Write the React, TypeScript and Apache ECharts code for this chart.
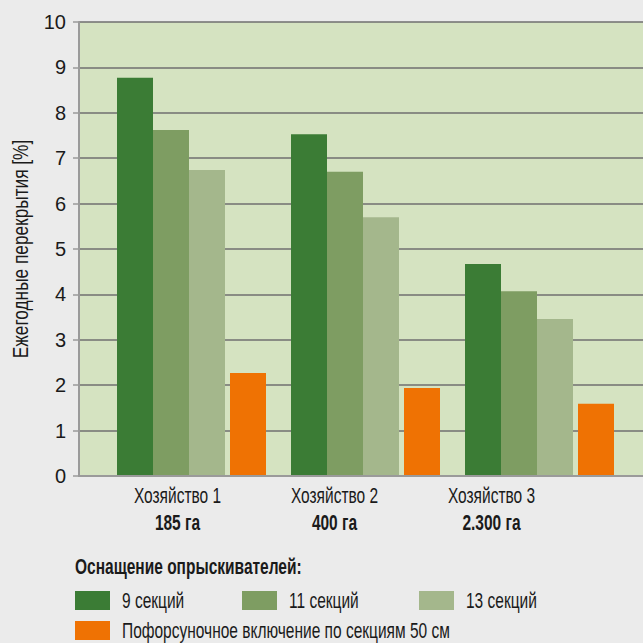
import React, { useEffect, useRef } from "react";
import * as echarts from "echarts";

const categories = ["Хозяйство 1", "Хозяйство 2", "Хозяйство 3"];
const areas = ["185 га", "400 га", "2.300 га"];
const sec9 = [8.77, 7.53, 4.67];
const sec11 = [7.62, 6.7, 4.07];
const sec13 = [6.74, 5.7, 3.46];
const nozzle = [2.27, 1.94, 1.59];
const seriesNames = [
  "9 секций",
  "11 секций",
  "13 секций",
  "Пофорсуночное включение по секциям 50 см",
];
const colors = ["#3b7c35", "#7e9d62", "#a4b78c", "#ef7203"];
const legendTitle = "Оснащение опрыскивателей:";
const yName = "Ежегодные перекрытия [%]";
const yTicks = [0, 10, 1];

const FONT = "'Liberation Sans', Arial, sans-serif";
const FS = 22;
const NARROW = 0.705;

export default function App() {
  const ref = useRef<HTMLDivElement>(null);
  useEffect(() => {
    if (!ref.current) return;
    const chart = echarts.init(ref.current, undefined, { renderer: "svg" });

    const barData = [sec9, sec11, sec13];
    const series: any[] = [];
    barData.forEach((d, i) => {
      series.push({
        type: "bar",
        name: seriesNames[i],
        xAxisIndex: 1,
        yAxisIndex: 1,
        data: d,
        barWidth: 36,
        barGap: 0,
        itemStyle: { color: colors[i] },
        silent: true,
      });
    });
    series.push({
      type: "bar",
      name: "gap",
      xAxisIndex: 1,
      yAxisIndex: 1,
      data: ["-", "-", "-"],
      barWidth: 5,
      barGap: 0,
      silent: true,
    });
    series.push({
      type: "bar",
      name: seriesNames[3],
      xAxisIndex: 1,
      yAxisIndex: 1,
      data: nozzle,
      barWidth: 36,
      barGap: 0,
      itemStyle: { color: colors[3] },
      silent: true,
    });

    chart.setOption({
      animation: false,
      backgroundColor: "#ebebeb",
      textStyle: { fontFamily: FONT },
      grid: [
        {
          left: 79,
          right: 0,
          top: 22,
          height: 454,
          show: true,
          backgroundColor: "#d5e3c1",
          borderWidth: 0,
        },
        { left: 104.5, width: 522, top: 22, height: 454 },
        { left: 99, width: 471, top: 22, height: 454 },
      ],
      xAxis: [
        {
          gridIndex: 0,
          type: "category",
          data: categories,
          axisLine: { show: true, lineStyle: { color: "#9a9a9a", width: 2 } },
          axisTick: { show: false },
          axisLabel: { show: false },
          z: 5,
        },
        { gridIndex: 1, type: "category", data: categories, show: false },
        { gridIndex: 2, type: "category", data: categories, show: false },
      ],
      yAxis: [
        {
          gridIndex: 0,
          type: "value",
          min: yTicks[0],
          max: yTicks[1],
          interval: yTicks[2],
          axisLine: { show: true, lineStyle: { color: "#9a9a9a", width: 2 } },
          axisTick: { show: true, length: 6, lineStyle: { color: "#9a9a9a", width: 1.5 } },
          axisLabel: { fontSize: 20, color: "#1a1a1a", margin: 13, fontFamily: FONT },
          splitLine: { show: true, lineStyle: { color: "#6f6f6f", width: 1.5 } },
        },
        { gridIndex: 1, type: "value", min: 0, max: 10, show: false, splitLine: { show: false } },
        { gridIndex: 2, type: "value", min: 0, max: 10, show: false, splitLine: { show: false } },
      ],
      series,
    });

    const texts: any[] = [];
    // y-axis name
    texts.push({
      type: "text",
      x: 20,
      y: 249,
      rotation: Math.PI / 2,
      scaleX: 0.785,
      style: {
        text: yName,
        font: `${FS}px ${FONT}`,
        fill: "#1a1a1a",
        align: "center",
        verticalAlign: "middle",
      },
    });
    // category labels placed through the axis scale
    categories.forEach((c, i) => {
      const px = chart.convertToPixel({ xAxisIndex: 2 }, c) as number;
      texts.push({
        type: "text",
        x: px,
        y: 495,
        scaleX: NARROW,
        style: {
          text: c,
          font: `${FS}px ${FONT}`,
          fill: "#1a1a1a",
          align: "center",
          verticalAlign: "middle",
        },
      });
      texts.push({
        type: "text",
        x: px,
        y: 522,
        scaleX: NARROW,
        style: {
          text: areas[i],
          font: `bold ${FS}px ${FONT}`,
          fill: "#1a1a1a",
          align: "center",
          verticalAlign: "middle",
        },
      });
    });
    // legend
    texts.push({
      type: "text",
      x: 75,
      y: 566,
      scaleX: NARROW,
      style: {
        text: legendTitle,
        font: `bold ${FS}px ${FONT}`,
        fill: "#1a1a1a",
        align: "left",
        verticalAlign: "middle",
      },
    });
    const legendPos = [
      { x: 75, y: 591 },
      { x: 242, y: 591 },
      { x: 419, y: 591 },
      { x: 75, y: 621 },
    ];
    seriesNames.forEach((name, i) => {
      const p = legendPos[i];
      texts.push({
        type: "rect",
        shape: { x: p.x, y: p.y, width: 35, height: 19 },
        style: { fill: colors[i] },
      });
      texts.push({
        type: "text",
        x: p.x + 47,
        y: p.y + 9.5,
        scaleX: NARROW,
        style: {
          text: name,
          font: `${FS}px ${FONT}`,
          fill: "#1a1a1a",
          align: "left",
          verticalAlign: "middle",
        },
      });
    });

    chart.setOption({ graphic: texts });
    return () => chart.dispose();
  }, []);
  return (
    <div
      ref={ref}
      style={{ position: "fixed", left: 0, top: 0, width: 643, height: 643 }}
    />
  );
}
